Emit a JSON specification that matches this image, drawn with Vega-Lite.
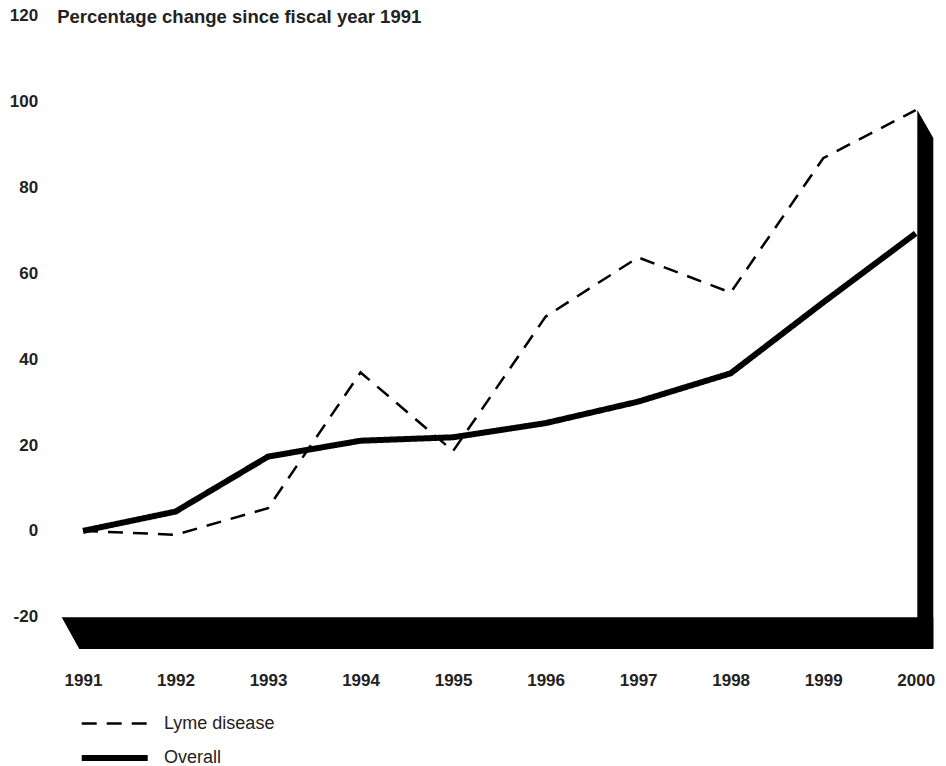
{
  "$schema": "https://vega.github.io/schema/vega-lite/v6.json",
  "autosize": {"type": "none"},
  "width": 871.6,
  "height": 633.4,
  "padding": {"left": 61.7, "top": 15.6, "right": 12.7, "bottom": 117},
  "background": "white",
  "config": {
    "view": {"stroke": null},
    "font": "Liberation Sans",
    "axis": {"labelColor": "#222", "titleColor": "#222", "grid": false, "domain": false, "ticks": false}
  },
  "datasets": {
    "series": [
      {"year": 1991, "series": "Lyme disease", "pct": 0},
      {"year": 1992, "series": "Lyme disease", "pct": -0.9},
      {"year": 1993, "series": "Lyme disease", "pct": 5.3},
      {"year": 1994, "series": "Lyme disease", "pct": 36.9},
      {"year": 1995, "series": "Lyme disease", "pct": 18.6},
      {"year": 1996, "series": "Lyme disease", "pct": 49.9},
      {"year": 1997, "series": "Lyme disease", "pct": 63.7},
      {"year": 1998, "series": "Lyme disease", "pct": 55.5},
      {"year": 1999, "series": "Lyme disease", "pct": 86.8},
      {"year": 2000, "series": "Lyme disease", "pct": 98.0},
      {"year": 1991, "series": "Overall", "pct": 0},
      {"year": 1992, "series": "Overall", "pct": 4.5},
      {"year": 1993, "series": "Overall", "pct": 17.3},
      {"year": 1994, "series": "Overall", "pct": 21.0},
      {"year": 1995, "series": "Overall", "pct": 21.8},
      {"year": 1996, "series": "Overall", "pct": 25.1},
      {"year": 1997, "series": "Overall", "pct": 30.1},
      {"year": 1998, "series": "Overall", "pct": 36.7},
      {"year": 1999, "series": "Overall", "pct": 53.2},
      {"year": 2000, "series": "Overall", "pct": 69.3}
    ],
    "frame": [
      {"part": "floor", "year": 1990.77, "top": -20.1, "bottom": -20.1},
      {"part": "floor", "year": 1990.96, "top": -20.1, "bottom": -27.5},
      {"part": "floor", "year": 2000.19, "top": -20.1, "bottom": -27.5},
      {"part": "wall", "year": 2000.017, "top": 98.0, "bottom": -27.5},
      {"part": "wall", "year": 2000.19, "top": 91.5, "bottom": -27.5}
    ]
  },
  "encoding": {
    "x": {
      "field": "year",
      "type": "quantitative",
      "scale": {"domain": [1990.77, 2000.19], "nice": false, "zero": false},
      "axis": {
        "title": null,
        "values": [1991, 1992, 1993, 1994, 1995, 1996, 1997, 1998, 1999, 2000],
        "format": "d",
        "labelFont": "Liberation Sans",
        "labelFontWeight": "bold",
        "labelFontSize": 17,
        "labelPadding": 23
      }
    }
  },
  "layer": [
    {
      "data": {"name": "frame"},
      "mark": {"type": "area", "color": "black", "interpolate": "linear"},
      "encoding": {
        "y": {
          "field": "top",
          "type": "quantitative",
          "scale": {"domain": [-27.5, 120], "nice": false, "zero": false},
          "axis": {
            "title": "Percentage change since fiscal year 1991",
            "titleAngle": 0,
            "titleAlign": "left",
            "titleBaseline": "middle",
            "titleX": -5,
            "titleY": 1,
            "titleFont": "Liberation Sans",
            "titleFontWeight": "bold",
            "titleFontSize": 18.5,
            "values": [-20, 0, 20, 40, 60, 80, 100, 120],
            "labelExpr": "datum.value < 0 ? '-' + abs(datum.value) : '' + datum.value",
            "labelFont": "Liberation Sans",
            "labelFontWeight": "bold",
            "labelFontSize": 17,
            "labelPadding": 24
          }
        },
        "y2": {"field": "bottom"},
        "detail": {"field": "part"}
      }
    },
    {
      "data": {"name": "series"},
      "mark": {"type": "line", "color": "black", "strokeJoin": "miter", "strokeCap": "butt"},
      "encoding": {
        "y": {"field": "pct", "type": "quantitative"},
        "strokeDash": {
          "field": "series",
          "type": "nominal",
          "scale": {"domain": ["Lyme disease", "Overall"], "range": [[15, 10], [1, 0]]},
          "legend": {
            "title": null,
            "orient": "none",
            "legendX": 33.5,
            "legendY": 690,
            "direction": "vertical",
            "symbolType": "M-2,0H2",
            "symbolSize": 1089,
            "symbolStrokeColor": "black",
            "symbolFillColor": "transparent",
            "labelFont": "Liberation Sans",
            "labelFontSize": 18,
            "labelColor": "#222",
            "labelOffset": 29.8,
            "rowPadding": 6,
            "padding": 0
          }
        },
        "strokeWidth": {
          "field": "series",
          "type": "nominal",
          "scale": {"domain": ["Lyme disease", "Overall"], "range": [2.5, 6]},
          "legend": null
        }
      }
    }
  ]
}
